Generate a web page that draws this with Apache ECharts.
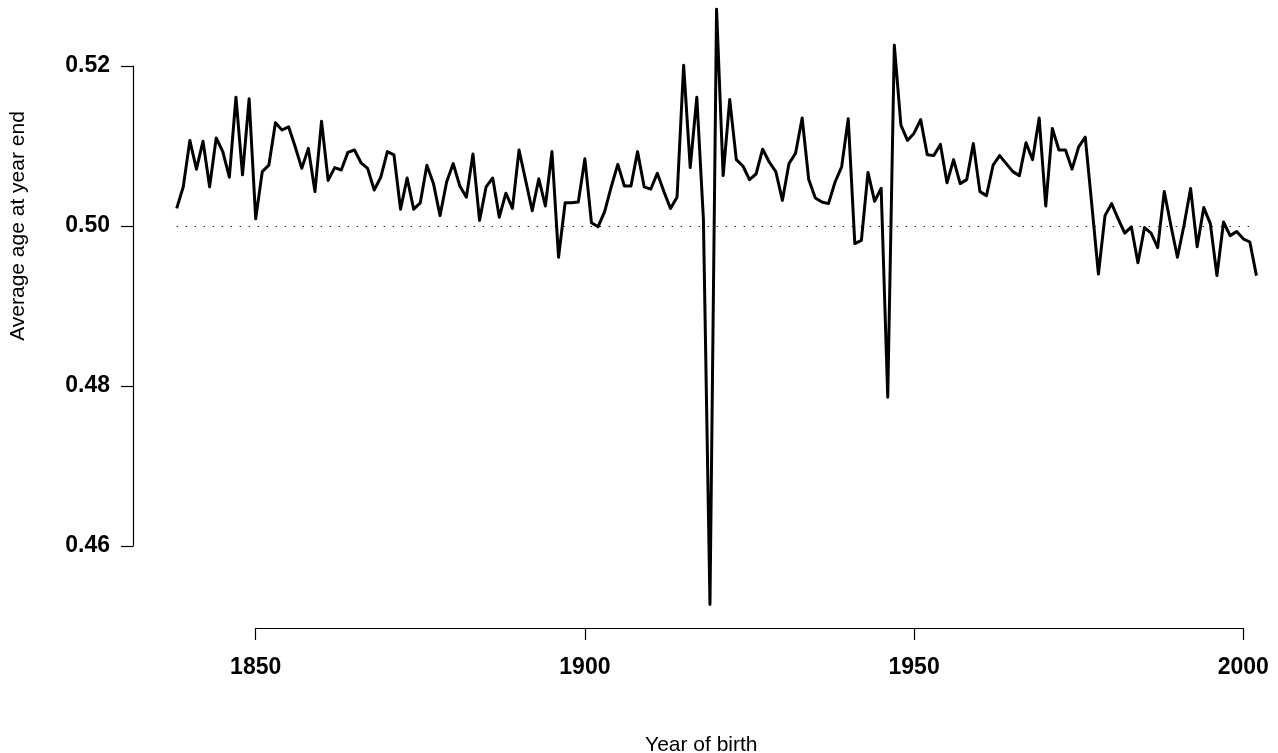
<!DOCTYPE html>
<html>
<head>
<meta charset="utf-8">
<script src="https://cdn.jsdelivr.net/npm/echarts@6/dist/echarts.min.js"></script>
<style>
html, body { margin: 0; padding: 0; background: #fff; }
#chart { width: 1278px; height: 753px; }
</style>
</head>
<body>
<div id="chart"></div>
<script>
// years of birth
var years = [
	1838, 1839, 1840, 1841, 1842, 1843, 1844, 1845, 1846, 1847, 1848, 1849,
	1850, 1851, 1852, 1853, 1854, 1855, 1856, 1857, 1858, 1859,
	1860, 1861, 1862, 1863, 1864, 1865, 1866, 1867, 1868, 1869,
	1870, 1871, 1872, 1873, 1874, 1875, 1876, 1877, 1878, 1879,
	1880, 1881, 1882, 1883, 1884, 1885, 1886, 1887, 1888, 1889,
	1890, 1891, 1892, 1893, 1894, 1895, 1896, 1897, 1898, 1899,
	1900, 1901, 1902, 1903, 1904, 1905, 1906, 1907, 1908, 1909,
	1910, 1911, 1912, 1913, 1914, 1915, 1916, 1917, 1918, 1919,
	1920, 1921, 1922, 1923, 1924, 1925, 1926, 1927, 1928, 1929,
	1930, 1931, 1932, 1933, 1934, 1935, 1936, 1937, 1938, 1939,
	1940, 1941, 1942, 1943, 1944, 1945, 1946, 1947, 1948, 1949,
	1950, 1951, 1952, 1953, 1954, 1955, 1956, 1957, 1958, 1959,
	1960, 1961, 1962, 1963, 1964, 1965, 1966, 1967, 1968, 1969,
	1970, 1971, 1972, 1973, 1974, 1975, 1976, 1977, 1978, 1979,
	1980, 1981, 1982, 1983, 1984, 1985, 1986, 1987, 1988, 1989,
	1990, 1991, 1992, 1993, 1994, 1995, 1996, 1997, 1998, 1999,
	2000, 2001, 2002
];

// average age at year end, same order as years
var avgAge = [
	0.5022, 0.5049, 0.5107, 0.5071, 0.5106, 0.5049, 0.5110, 0.5093, 0.5061, 0.5161, 0.5064, 0.5159,
	0.5009, 0.5068, 0.5076, 0.5129, 0.5120, 0.5124, 0.5099, 0.5072, 0.5097, 0.5043,
	0.5131, 0.5057, 0.5073, 0.5070, 0.5092, 0.5095, 0.5079, 0.5072, 0.5045, 0.5061,
	0.5093, 0.5089, 0.5021, 0.5060, 0.5021, 0.5029, 0.5076, 0.5053, 0.5013, 0.5055,
	0.5078, 0.5050, 0.5036, 0.5090, 0.5007, 0.5049, 0.5060, 0.5011, 0.5041, 0.5022,
	0.5095, 0.5057, 0.5019, 0.5059, 0.5025, 0.5093, 0.4961, 0.5029, 0.5029, 0.5030,
	0.5084, 0.5004, 0.4999, 0.5018, 0.5049, 0.5077, 0.5050, 0.5050, 0.5093, 0.5049,
	0.5046, 0.5066, 0.5043, 0.5022, 0.5036, 0.5201, 0.5073, 0.5161, 0.5009, 0.4527,
	0.5271, 0.5063, 0.5158, 0.5083, 0.5075, 0.5058, 0.5065, 0.5096, 0.5080, 0.5068,
	0.5032, 0.5078, 0.5091, 0.5135, 0.5058, 0.5035, 0.5030, 0.5028, 0.5055, 0.5074,
	0.5134, 0.4978, 0.4982, 0.5067, 0.5031, 0.5047, 0.4786, 0.5226, 0.5126, 0.5107,
	0.5116, 0.5133, 0.5089, 0.5088, 0.5102, 0.5054, 0.5083, 0.5053, 0.5058, 0.5103,
	0.5043, 0.5038, 0.5076, 0.5088, 0.5078, 0.5068, 0.5063, 0.5104, 0.5083, 0.5135,
	0.5025, 0.5122, 0.5095, 0.5095, 0.5071, 0.5099, 0.5111, 0.5026, 0.4940, 0.5013,
	0.5028, 0.5009, 0.4991, 0.4999, 0.4954, 0.4998, 0.4991, 0.4973, 0.5043, 0.5001,
	0.4961, 0.5001, 0.5047, 0.4974, 0.5023, 0.5003, 0.4938, 0.5005, 0.4988, 0.4993,
	0.4984, 0.4980, 0.4938
];

var xTicks = [1850, 1900, 1950, 2000];
var yTicks = [0.46, 0.48, 0.50, 0.52];
var refLevel = 0.5;

var tickFont = {
	fontFamily : 'Liberation Sans',
	fontWeight : 'bold',
	fontSize : 23,
	color : '#000'
};
var titleFont = { fontFamily : 'Liberation Sans', fontSize : 21, color : '#000' };

var chart = echarts.init(document.getElementById('chart'));

var points = years.map(function(y, i) {
	return [ y, avgAge[i] ];
});

chart.setOption({
	animation : false,
	backgroundColor : '#fff',
	grid : [ {
		// plotting region
		left : 133, top : 0, width : 1136.6, height : 628,
		containLabel : false, outerBoundsMode : 'none'
	}, {
		// region spanned by the ticks, used for the R style axes
		left : 255.7, top : 66, width : 987.6, height : 480,
		containLabel : false, outerBoundsMode : 'none'
	} ],
	// y title sits level with the 0.5 line, like in the original
	graphic : [ {
		type : 'text',
		x : 18,
		y : 226,
		rotation : Math.PI / 2,
		style : {
			text : 'Average age at year end',
			font : '21px "Liberation Sans"',
			fill : '#000',
			align : 'center',
			verticalAlign : 'middle'
		}
	} ],
	xAxis : [ {
		gridIndex : 0,
		type : 'value',
		min : 1831.364,
		max : 2004,
		axisLine : { show : false },
		axisTick : { show : false },
		axisLabel : { show : false },
		splitLine : { show : false },
		name : 'Year of birth',
		nameLocation : 'middle',
		nameGap : 107,
		nameTextStyle : titleFont
	}, {
		gridIndex : 1,
		type : 'value',
		min : xTicks[0],
		max : xTicks[xTicks.length - 1],
		interval : 50,
		offset : 82,
		axisLine : { lineStyle : { color : '#000', width : 1.2 } },
		axisTick : { length : 12, lineStyle : { color : '#000', width : 1.2 } },
		axisLabel : Object.assign({
			margin : 28,
			formatter : function(v) { return String(v); }
		}, tickFont),
		splitLine : { show : false }
	} ],
	yAxis : [ {
		gridIndex : 0,
		type : 'value',
		min : 0.44975,
		max : 0.52825,
		show : false
	}, {
		gridIndex : 1,
		type : 'value',
		min : yTicks[0],
		max : yTicks[yTicks.length - 1],
		interval : 0.02,
		offset : 122.7,
		axisLine : { lineStyle : { color : '#000', width : 1.2 } },
		axisTick : { length : 12, lineStyle : { color : '#000', width : 1.2 } },
		axisLabel : Object.assign({
			margin : 23,
			formatter : function(v) { return v.toFixed(2); }
		}, tickFont),
		splitLine : { show : false }
	} ],
	series : [ {
		type : 'line',
		xAxisIndex : 0,
		yAxisIndex : 0,
		data : points,
		symbol : 'none',
		lineStyle : { color : '#000', width : 3, join : 'round' },
		markLine : {
			silent : true,
			symbol : 'none',
			label : { show : false },
			lineStyle : { color : '#000', width : 1.2, type : [ 1.2, 7.8 ] },
			data : [ [ { coord : [ years[0], refLevel ] }, { coord : [ years[years.length - 1], refLevel ] } ] ]
		}
	} ]
});
</script>
</body>
</html>
